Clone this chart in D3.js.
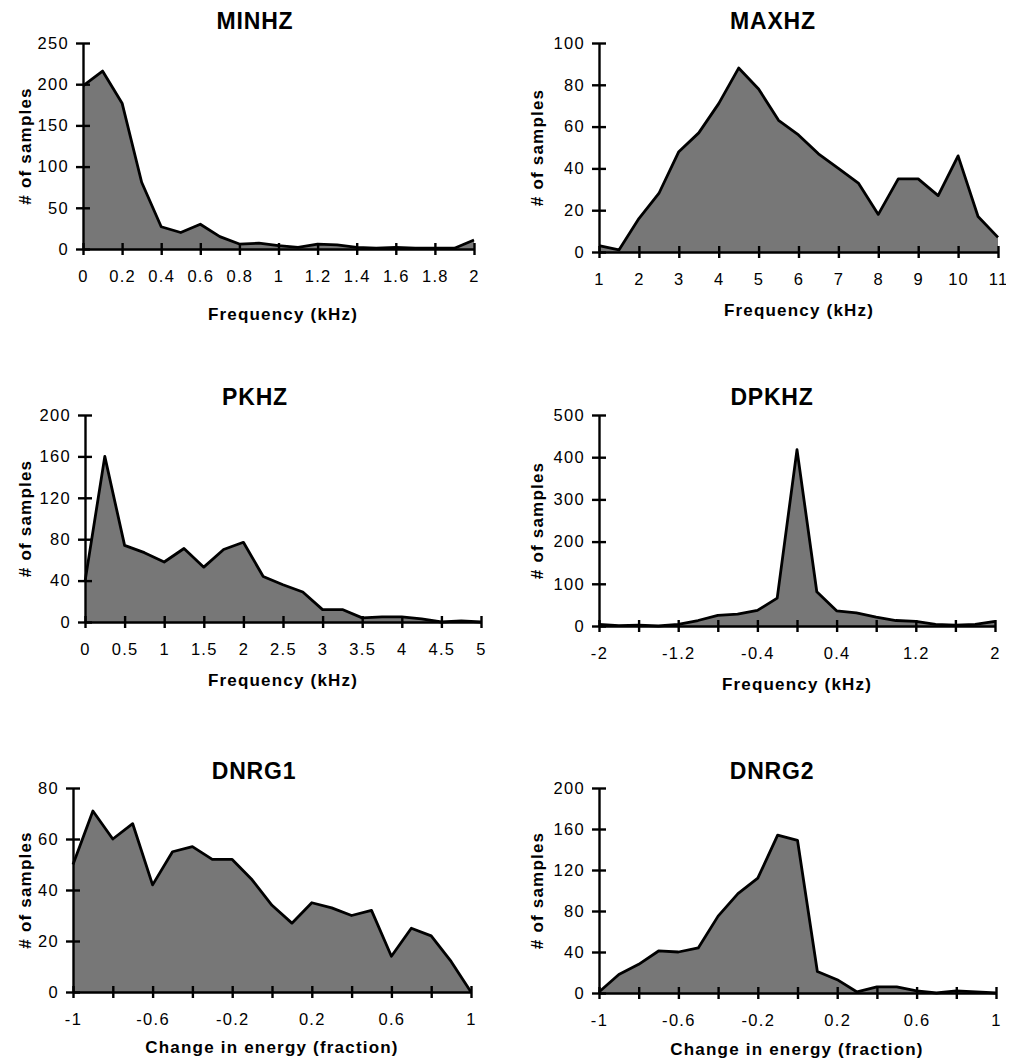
<!DOCTYPE html>
<html>
<head>
<meta charset="utf-8">
<script src="https://cdnjs.cloudflare.com/ajax/libs/d3/7.8.5/d3.min.js"></script>
<style>
    body { margin: 0; background: #fff; }
    svg { display: block; font-family: "Liberation Sans", Arial, Helvetica, sans-serif; }
</style>
</head>
<body>
<svg id="chart" width="1017" height="1060"></svg>
<script>
// values (counts per bin)
var minhzBins   = [0, 0.1, 0.2, 0.3, 0.4, 0.5, 0.6, 0.7, 0.8, 0.9, 1, 1.1, 1.2, 1.3, 1.4, 1.5, 1.6, 1.7, 1.8, 1.9, 2];
var minhzCounts = [198, 216, 177, 81, 27, 20, 30, 15, 6, 7, 4, 2, 6, 5, 2, 1, 2, 1, 1, 1, 11];
var minhzXTicks = [0, 0.2, 0.4, 0.6, 0.8, 1, 1.2, 1.4, 1.6, 1.8, 2];
var minhzYTicks = [0, 50, 100, 150, 200, 250];

var maxhzBins   = [1, 1.5, 2, 2.5, 3, 3.5, 4, 4.5, 5, 5.5, 6, 6.5, 7, 7.5, 8, 8.5, 9, 9.5, 10, 10.5, 11];
var maxhzCounts = [3, 1, 16, 28, 48, 57, 71, 88, 78, 63, 56, 47, 40, 33, 18, 35, 35, 27, 46, 17, 7];
var maxhzXTicks = [1, 2, 3, 4, 5, 6, 7, 8, 9, 10, 11];
var maxhzYTicks = [0, 20, 40, 60, 80, 100];

var pkhzBins   = [0, 0.25, 0.5, 0.75, 1, 1.25, 1.5, 1.75, 2, 2.25, 2.5, 2.75, 3, 3.25, 3.5, 3.75, 4, 4.25, 4.5, 4.75, 5];
var pkhzCounts = [39, 160, 74, 67, 58, 71, 53, 70, 77, 44, 36, 29, 12, 12, 4, 5, 5, 3, 0, 1, 0];
var pkhzXTicks = [0, 0.5, 1, 1.5, 2, 2.5, 3, 3.5, 4, 4.5, 5];
var pkhzYTicks = [0, 40, 80, 120, 160, 200];

var dpkhzBins   = [-2, -1.8, -1.6, -1.4, -1.2, -1, -0.8, -0.6, -0.4, -0.2, 0, 0.2, 0.4, 0.6, 0.8, 1, 1.2, 1.4, 1.6, 1.8, 2];
var dpkhzCounts = [4, 1, 2, 0, 4, 13, 25, 28, 37, 66, 418, 81, 36, 31, 21, 13, 11, 4, 2, 4, 11];
var dpkhzXTicks = [-2, -1.6, -1.2, -0.8, -0.4, 0, 0.4, 0.8, 1.2, 1.6, 2];
var dpkhzXLabels = [-2, -1.2, -0.4, 0.4, 1.2, 2];
var dpkhzYTicks = [0, 100, 200, 300, 400, 500];

var dnrg1Bins   = [-1, -0.9, -0.8, -0.7, -0.6, -0.5, -0.4, -0.3, -0.2, -0.1, 0, 0.1, 0.2, 0.3, 0.4, 0.5, 0.6, 0.7, 0.8, 0.9, 1];
var dnrg1Counts = [50, 71, 60, 66, 42, 55, 57, 52, 52, 44, 34, 27, 35, 33, 30, 32, 14, 25, 22, 12, 0];
var dnrg1XTicks = [-1, -0.8, -0.6, -0.4, -0.2, 0, 0.2, 0.4, 0.6, 0.8, 1];
var dnrg1XLabels = [-1, -0.6, -0.2, 0.2, 0.6, 1];
var dnrg1YTicks = [0, 20, 40, 60, 80];

var dnrg2Bins   = [-1, -0.9, -0.8, -0.7, -0.6, -0.5, -0.4, -0.3, -0.2, -0.1, 0, 0.1, 0.2, 0.3, 0.4, 0.5, 0.6, 0.7, 0.8, 0.9, 1];
var dnrg2Counts = [1, 18, 28, 41, 40, 44, 75, 97, 112, 154, 149, 21, 13, 1, 6, 6, 2, 0, 2, 1, 0];
var dnrg2XTicks = [-1, -0.8, -0.6, -0.4, -0.2, 0, 0.2, 0.4, 0.6, 0.8, 1];
var dnrg2XLabels = [-1, -0.6, -0.2, 0.2, 0.6, 1];
var dnrg2YTicks = [0, 40, 80, 120, 160, 200];

var freqLabel = "Frequency (kHz)";
var energyLabel = "Change in energy (fraction)";
var yLabel = "# of samples";

// where each little chart sits on the page
var panels = [
    {title: "MINHZ", bins: minhzBins, counts: minhzCounts, xTicks: minhzXTicks, xLabels: minhzXTicks, yTicks: minhzYTicks, xText: freqLabel,
     x0: 83, x1: 474, yTop: 43, yBot: 249, titleX: 255, titleY: 29, xTextX: 283, xTextY: 320, yTextX: 31},
    {title: "MAXHZ", bins: maxhzBins, counts: maxhzCounts, xTicks: maxhzXTicks, xLabels: maxhzXTicks, yTicks: maxhzYTicks, xText: freqLabel,
     x0: 599, x1: 998, yTop: 43, yBot: 252, titleX: 773, titleY: 29, xTextX: 799, xTextY: 316, yTextX: 543},
    {title: "PKHZ", bins: pkhzBins, counts: pkhzCounts, xTicks: pkhzXTicks, xLabels: pkhzXTicks, yTicks: pkhzYTicks, xText: freqLabel,
     x0: 85, x1: 481, yTop: 415, yBot: 622, titleX: 255, titleY: 405, xTextX: 283, xTextY: 686, yTextX: 31},
    {title: "DPKHZ", bins: dpkhzBins, counts: dpkhzCounts, xTicks: dpkhzXTicks, xLabels: dpkhzXLabels, yTicks: dpkhzYTicks, xText: freqLabel,
     x0: 599, x1: 995, yTop: 415, yBot: 626, titleX: 772, titleY: 405, xTextX: 797, xTextY: 690, yTextX: 543},
    {title: "DNRG1", bins: dnrg1Bins, counts: dnrg1Counts, xTicks: dnrg1XTicks, xLabels: dnrg1XLabels, yTicks: dnrg1YTicks, xText: energyLabel,
     x0: 73, x1: 471, yTop: 788, yBot: 992, titleX: 254, titleY: 779, xTextX: 272, xTextY: 1053, yTextX: 31},
    {title: "DNRG2", bins: dnrg2Bins, counts: dnrg2Counts, xTicks: dnrg2XTicks, xLabels: dnrg2XLabels, yTicks: dnrg2YTicks, xText: energyLabel,
     x0: 599, x1: 996, yTop: 788, yBot: 993, titleX: 772, titleY: 779, xTextX: 797, xTextY: 1055, yTextX: 543}
];

var svg = d3.select('#chart');

// the source scan is cut off a bit before the right edge
svg.append("defs").append("clipPath")
    .attr("id", "pageclip")
    .append("rect")
    .attr("x", 0).attr("y", 0)
    .attr("width", 1006).attr("height", 1060);

var root = svg.append("g").attr("clip-path", "url(#pageclip)");

panels.forEach(function (p) {
    var g = root.append("g");

    var x = d3.scaleLinear()
        .domain([p.xTicks[0], p.xTicks[p.xTicks.length - 1]])
        .range([p.x0, p.x1]);
    var y = d3.scaleLinear()
        .domain([0, p.yTicks[p.yTicks.length - 1]])
        .range([p.yBot, p.yTop]);

    var pts = p.bins.map(function (b, i) { return {bin: b, count: p.counts[i]}; });

    var area = d3.area()
        .x(function (d) { return x(d.bin); })
        .y0(y(0))
        .y1(function (d) { return y(d.count); });
    var line = d3.line()
        .x(function (d) { return x(d.bin); })
        .y(function (d) { return y(d.count); });

    g.append("path")
        .datum(pts)
        .attr("d", area)
        .attr("fill", "#777777");

    g.append("path")
        .datum(pts)
        .attr("d", line)
        .attr("fill", "none")
        .attr("stroke", "#000")
        .attr("stroke-width", 2.8)
        .attr("stroke-linejoin", "round");

    // y axis, ticks cross the line
    var yAxis = d3.axisLeft(y)
        .tickValues(p.yTicks)
        .tickSizeInner(7)
        .tickSizeOuter(0)
        .tickPadding(7)
        .tickFormat(function (d) { return String(d); });
    var ya = g.append("g")
        .attr("transform", "translate(" + p.x0 + ",0)")
        .call(yAxis)
        .attr("font-size", null)
        .attr("font-family", null);
    ya.select(".domain").attr("stroke", "#000").attr("stroke-width", 2.4);
    ya.selectAll(".tick line").attr("x1", 7).attr("stroke", "#000").attr("stroke-width", 2.4);
    ya.selectAll(".tick text")
        .attr("fill", "#000")
        .style("font-size", "16.5px")
        .style("letter-spacing", "1.3px");

    // x axis
    var xAxis = d3.axisBottom(x)
        .tickValues(p.xTicks)
        .tickSizeInner(6)
        .tickSizeOuter(0)
        .tickFormat(function (d) {
            var show = p.xLabels.some(function (l) { return Math.abs(l - d) < 1e-9; });
            return show ? String(d) : "";
        });
    var xa = g.append("g")
        .attr("transform", "translate(0," + p.yBot + ")")
        .call(xAxis)
        .attr("font-size", null)
        .attr("font-family", null);
    xa.select(".domain").attr("stroke", "#000").attr("stroke-width", 2.4);
    xa.selectAll(".tick line").attr("y1", -6).attr("stroke", "#000").attr("stroke-width", 2.4);
    xa.selectAll(".tick text")
        .attr("y", 33)
        .attr("dy", 0)
        .attr("fill", "#000")
        .style("font-size", "16.5px")
        .style("letter-spacing", "1.3px");

    g.append("text")
        .attr("x", p.titleX)
        .attr("y", p.titleY)
        .style("text-anchor", "middle")
        .style("font-size", "23px")
        .style("font-weight", "bold")
        .style("letter-spacing", "0.8px")
        .text(p.title);

    g.append("text")
        .attr("x", p.xTextX)
        .attr("y", p.xTextY)
        .style("text-anchor", "middle")
        .style("font-size", "17px")
        .style("font-weight", "bold")
        .style("letter-spacing", "1.2px")
        .text(p.xText);

    g.append("text")
        .attr("transform", "translate(" + p.yTextX + "," + ((p.yTop + p.yBot) / 2) + ") rotate(-90)")
        .style("text-anchor", "middle")
        .style("font-size", "17px")
        .style("font-weight", "bold")
        .style("letter-spacing", "1.2px")
        .text(yLabel);
});
</script>
</body>
</html>
